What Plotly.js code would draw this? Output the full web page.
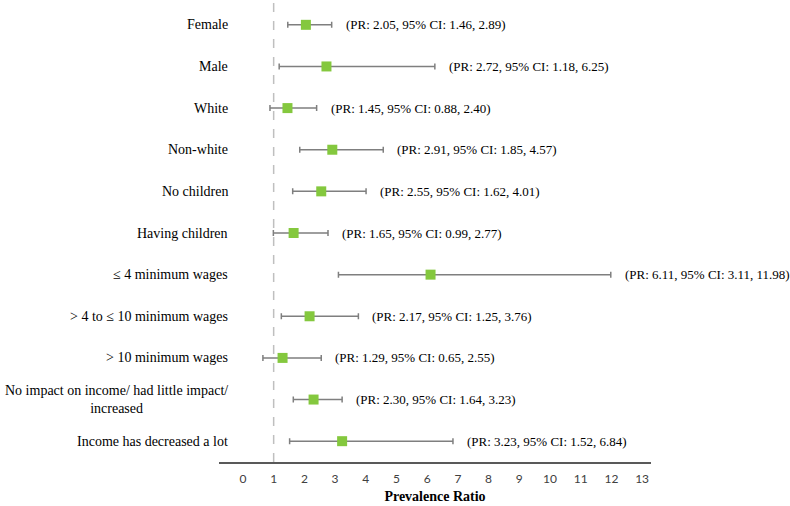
<!DOCTYPE html>
<html>
<head>
<meta charset="utf-8">
<script src="https://cdn.plot.ly/plotly-3.0.1.min.js"></script>
<style>html,body{margin:0;padding:0;background:#fff;}#chart{width:790px;height:506px;}</style>
</head>
<body>
<div id="chart"></div>
<script>
const categories = [
  "Female",
  "Male",
  "White",
  "Non-white",
  "No children",
  "Having children",
  "\u2264 4 minimum wages",
  "> 4 to \u2264 10 minimum wages",
  "> 10 minimum wages",
  "No impact on income/ had little impact/<br>increased",
  "Income has decreased a lot"
];
const pr    = [2.05, 2.72, 1.45, 2.91, 2.55, 1.65, 6.11, 2.17, 1.29, 2.30, 3.23];
const lower = [1.46, 1.18, 0.88, 1.85, 1.62, 0.99, 3.11, 1.25, 0.65, 1.64, 1.52];
const upper = [2.89, 6.25, 2.40, 4.57, 4.01, 2.77, 11.98, 3.76, 2.55, 3.23, 6.84];
const xTicks = [0,1,2,3,4,5,6,7,8,9,10,11,12,13];
const refLine = 1;

const SERIF = "'Liberation Serif', 'Times New Roman', 'DejaVu Serif', serif";
const rows = categories.map((_, i) => i);
const fmt = v => v.toFixed(2);

const trace = {
  type: 'scatter',
  mode: 'markers',
  x: pr,
  y: rows,
  marker: {symbol: 'square', size: 10, color: '#84C83E'},
  error_x: {
    type: 'data',
    symmetric: false,
    array: upper.map((u, i) => u - pr[i]),
    arrayminus: lower.map((l, i) => pr[i] - l),
    color: '#7F7F7F',
    thickness: 1.5,
    width: 3
  },
  hoverinfo: 'skip',
  showlegend: false
};

const annotations = [];
categories.forEach((c, i) => {
  annotations.push({
    xref: 'paper', yref: 'y', x: 0, y: i, xanchor: 'right', yanchor: 'middle',
    xshift: 11, text: c, showarrow: false, align: 'center',
    font: {family: SERIF, size: 14, color: '#000'}
  });
  annotations.push({
    xref: 'x', yref: 'y', x: upper[i], y: i, xanchor: 'left', yanchor: 'middle',
    xshift: 12,
    text: '(PR: ' + fmt(pr[i]) + ', 95% CI: ' + fmt(lower[i]) + ', ' + fmt(upper[i]) + ')',
    showarrow: false,
    font: {family: SERIF, size: 13, color: '#000'}
  });
});

const layout = {
  width: 790, height: 506,
  margin: {l: 219, r: 139, t: 4, b: 44},
  paper_bgcolor: '#fff', plot_bgcolor: '#fff',
  showlegend: false,
  xaxis: {
    range: [-0.78, 13.29],
    tickvals: xTicks,
    ticktext: xTicks.map(String),
    ticks: '',
    ticklabelstandoff: 5,
    showgrid: false, zeroline: false,
    showline: true, linecolor: '#595959', linewidth: 1.5,
    tickfont: {family: "Lato, Carlito, sans-serif", size: 12, color: '#404040'},
    title: {text: 'Prevalence Ratio', standoff: 6,
      font: {family: SERIF, size: 14, color: '#000', weight: 'bold'}},
    fixedrange: true
  },
  yaxis: {
    range: [10.5, -0.5],
    showticklabels: false, ticks: '', showgrid: false, zeroline: false, showline: false,
    fixedrange: true
  },
  shapes: [{
    type: 'line', xref: 'x', yref: 'paper', x0: refLine, x1: refLine, y0: 0, y1: 1.01,
    line: {color: '#BFBFBF', width: 1.5, dash: 'dash'}, layer: 'below'
  }],
  annotations: annotations
};

Plotly.newPlot('chart', [trace], layout, {displayModeBar: false, staticPlot: true});
</script>
</body>
</html>
